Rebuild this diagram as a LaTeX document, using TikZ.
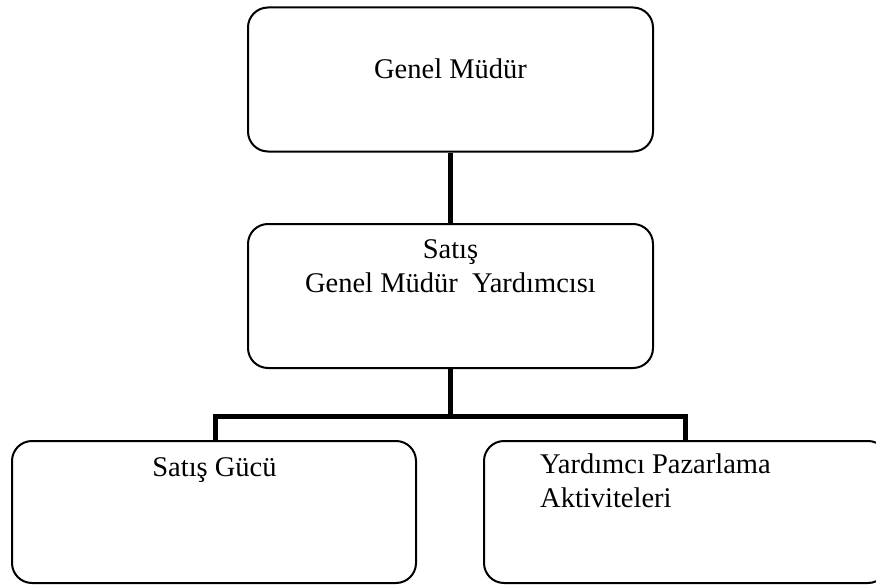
\documentclass[tikz,border=0pt]{standalone}
\usepackage{fontspec}
\setmainfont{Liberation Serif}
\begin{document}
\begin{tikzpicture}[x=1pt,y=-1pt,
  orgbox/.style={draw=black, line width=2pt, rounded corners=20pt, inner sep=0pt,
                 minimum width=#1, minimum height=144pt},
  orgbox/.default=405pt,
  conn/.style={draw=black, line width=5pt, line join=miter},
  lbl/.style={inner sep=0pt, anchor=base, font=\fontsize{28.5}{34}\selectfont}]
\useasboundingbox (0,0) rectangle (876,586);

% boxes (the right-hand one runs past the page edge)
\node[orgbox] (gm)  at (450.5,79.5) {};
\node[orgbox] (gmy) at (450.5,296) {};
\node[orgbox=404pt, minimum height=142pt] (sg) at (214,512) {};
\node[orgbox=404pt, minimum height=142pt] (ypa) at (686,512) {};

% labels
\node[lbl] (tgm) at (450.5,79) {Genel Müdür};
\node[lbl] (tgmy1) at (450.5,258) {Satış};
\node[lbl] (tgmy2) at (450.5,292) {Genel Müdür\ \ Yardımcısı};
\node[lbl] (tsg) at (214.5,476) {Satış Gücü};
\node[lbl, anchor=base west] (typa1) at (540,473) {Yardımcı Pazarlama};
\node[lbl, anchor=base west] (typa2) at (540,507) {Aktiviteleri};

% connectors
\coordinate (jl) at (215.5,416);
\coordinate (jr) at (685,416);
\draw[conn] (gm.south) -- (gmy.north);
\draw[conn] (gmy.south) -- (gmy.south |- jl);
\draw[conn] (jl |- sg.north) -- (jl) -- (jr) -- (jr |- ypa.north);
\end{tikzpicture}
\end{document}
